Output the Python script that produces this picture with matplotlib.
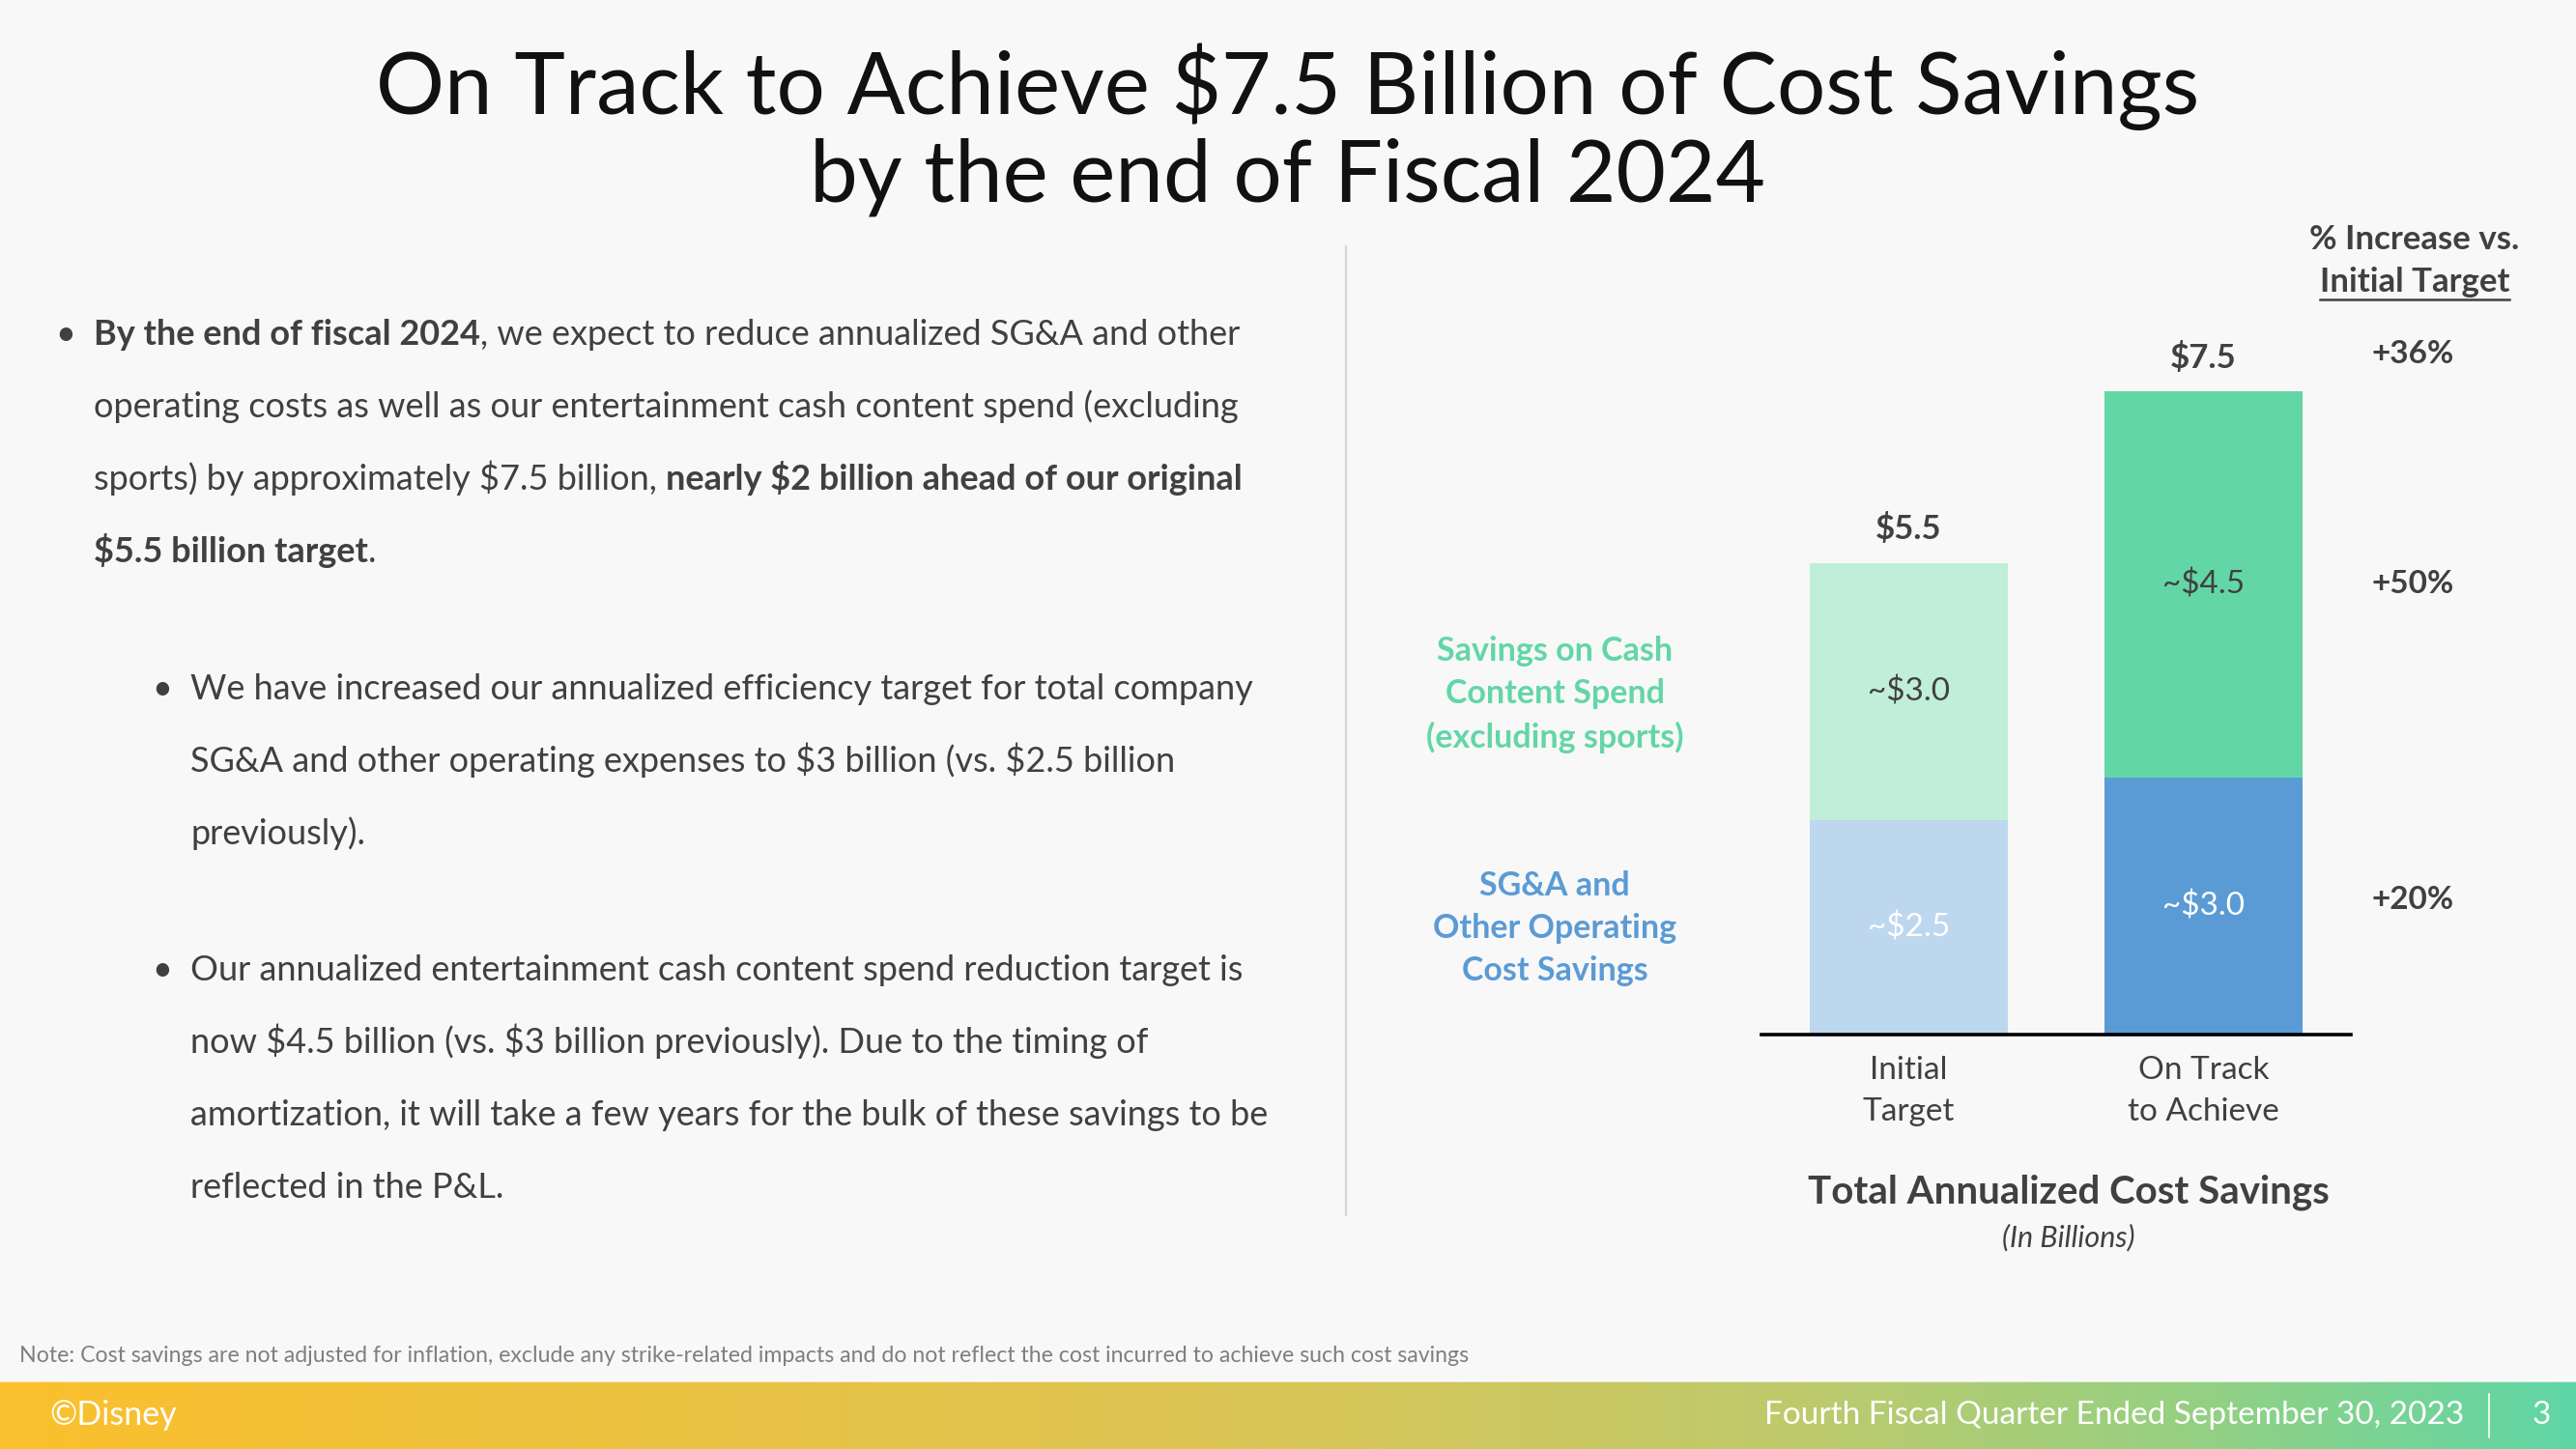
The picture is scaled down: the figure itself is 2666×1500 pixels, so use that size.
import matplotlib
matplotlib.use("Agg")
import matplotlib.pyplot as plt
import numpy as np
from matplotlib.lines import Line2D

plt.rcParams['font.family'] = ['Lato', 'DejaVu Sans']
plt.rcParams['text.parse_math'] = False

# Chart data
categories = ['Initial\nTarget', 'On Track\nto Achieve']
sga_savings = [2.5, 3.0]
content_savings = [3.0, 4.5]
totals = [5.5, 7.5]
sga_labels = ['~$2.5', '~$3.0']
content_labels = ['~$3.0', '~$4.5']
total_labels = ['$5.5', '$7.5']
pct_total = '+36%'
pct_content = '+50%'
pct_sga = '+20%'

title_lines = ['On Track to Achieve $7.5 Billion of Cost Savings',
               'by the end of Fiscal 2024']

bullet_main = [
    [("By the end of fiscal 2024", True), (", we expect to reduce annualized SG&A and other", False)],
    [("operating costs as well as our entertainment cash content spend (excluding", False)],
    [("sports) by approximately $7.5 billion, ", False), ("nearly $2 billion ahead of our original", True)],
    [("$5.5 billion target", True), (".", False)],
]
bullet_sub1 = [
    "We have increased our annualized efficiency target for total company",
    "SG&A and other operating expenses to $3 billion (vs. $2.5 billion",
    "previously).",
]
bullet_sub2 = [
    "Our annualized entertainment cash content spend reduction target is",
    "now $4.5 billion (vs. $3 billion previously). Due to the timing of",
    "amortization, it will take a few years for the bulk of these savings to be",
    "reflected in the P&L.",
]
note = ("Note: Cost savings are not adjusted for inflation, exclude any strike-related impacts "
        "and do not reflect the cost incurred to achieve such cost savings")

W, H = 2666, 1500
BG = '#F8F8F8'
TXT = '#404040'
GREEN_LIGHT = '#C1EED9'
GREEN = '#63D6A6'
BLUE_LIGHT = '#BDD7EE'
BLUE = '#5B9BD5'

fig = plt.figure(figsize=(W / 100, H / 100), dpi=100, facecolor=BG)
renderer = fig.canvas.get_renderer()


def fx(x):
    return x / W


def fy(y):
    return 1 - y / H


# title
for i, line in enumerate(title_lines):
    fig.text(0.5, fy(90 + i * 94), line, fontsize=64, color='#111111',
             ha='center', va='center')

# divider
fig.add_artist(Line2D([fx(1393)] * 2, [fy(255), fy(1258)], color='#D6D6D6', lw=1.5))

# body text
BODY = 26


def draw_runs(x, y, runs):
    for s, bold in runs:
        t = fig.text(fx(x), fy(y + 10), s, fontsize=BODY, color=TXT, va='baseline', ha='left',
                     fontweight='bold' if bold else 'normal')
        x += t.get_window_extent(renderer).width


def bullet(x, y):
    fig.text(fx(x), fy(y + 10), '\u2022', fontsize=BODY, color=TXT, va='baseline', ha='left')


step = 75
bullet(57, 347)
for i, runs in enumerate(bullet_main):
    draw_runs(97, 347 + i * step, runs)

bullet(157, 714)
for i, line in enumerate(bullet_sub1):
    draw_runs(197, 714 + i * step, [(line, False)])

bullet(157, 1005)
for i, line in enumerate(bullet_sub2):
    draw_runs(197, 1005 + i * step, [(line, False)])

# bar chart
ymax = 8.5
ax = fig.add_axes([1823 / W, (H - 1071) / H, 610 / W, ymax * 88.8 / H])
ax.set_facecolor('none')
x = np.arange(len(categories))
bw = 0.673
ax.bar(x, sga_savings, width=bw, color=[BLUE_LIGHT, BLUE])
ax.bar(x, content_savings, width=bw, bottom=sga_savings, color=[GREEN_LIGHT, GREEN])
ax.set_xlim(-0.5, 1.5)
ax.set_ylim(0, ymax)
for s in ['top', 'left', 'right']:
    ax.spines[s].set_visible(False)
ax.spines['bottom'].set_linewidth(2.6)
ax.spines['bottom'].set_color('black')
ax.set_yticks([])
ax.set_xticks(x)
ax.set_xticklabels(categories, fontsize=24, color=TXT, linespacing=1.55)
ax.tick_params(axis='x', length=0, pad=16)

for i in range(len(categories)):
    ax.text(x[i], sga_savings[i] / 2, sga_labels[i], ha='center', va='center',
            fontsize=24, color='white')
    ax.text(x[i], sga_savings[i] + content_savings[i] / 2, content_labels[i], ha='center',
            va='center', fontsize=24, color=TXT)
    ax.text(x[i], totals[i] + 0.39, total_labels[i], ha='center', va='center',
            fontsize=25, color=TXT, fontweight='bold', clip_on=False)

px_ = 1.71
ax.text(px_, totals[1] + 0.43, pct_total, ha='center', va='center', fontsize=24,
        color=TXT, fontweight='bold', clip_on=False)
ax.text(px_, sga_savings[1] + content_savings[1] / 2, pct_content, ha='center', va='center',
        fontsize=24, color=TXT, fontweight='bold', clip_on=False)
ax.text(px_, sga_savings[1] / 2 + 0.07, pct_sga, ha='center', va='center', fontsize=24,
        color=TXT, fontweight='bold', clip_on=False)

fig.text(fx(2499), fy(248), '% Increase vs.', ha='center', va='center', fontsize=25,
         color=TXT, fontweight='bold')
it = fig.text(fx(2499), fy(292), 'Initial Target', ha='center', va='center', fontsize=25,
              color=TXT, fontweight='bold')
bb = it.get_window_extent(renderer)
fig.add_artist(Line2D([bb.x0 / W, bb.x1 / W], [(bb.y0 - 2) / H] * 2, color=TXT, lw=1.8))

# series labels
fig.text(fx(1609), fy(719), 'Savings on Cash\nContent Spend\n(excluding sports)', ha='center',
         va='center', fontsize=24.5, color=GREEN, fontweight='bold', linespacing=1.48)
fig.text(fx(1609), fy(961), 'SG&A and\nOther Operating\nCost Savings', ha='center',
         va='center', fontsize=24.5, color=BLUE, fontweight='bold', linespacing=1.48)

fig.text(fx(2141), fy(1234), 'Total Annualized Cost Savings', ha='center', va='center',
         fontsize=29, color=TXT, fontweight='bold')
fig.text(fx(2141), fy(1281), '(In Billions)', ha='center', va='center', fontsize=22,
         color=TXT, style='italic')

# note
fig.text(fx(20), fy(1403), note, ha='left', va='center', fontsize=16.7, color='#7F7F7F')

# footer band
fax = fig.add_axes([0, 0, 1, 70 / H])
stops = [0.0, 0.45, 0.7, 0.85, 1.0]
cols = np.array([[251, 192, 45], [222, 196, 82], [190, 202, 108], [150, 208, 130], [95, 214, 166]]) / 255
t = np.linspace(0, 1, 800)
grad = np.stack([np.interp(t, stops, cols[:, k]) for k in range(3)], axis=-1)
fax.imshow(grad[np.newaxis, :, :], aspect='auto', extent=[0, 1, 0, 1])
fax.set_axis_off()
fig.add_artist(Line2D([0, 1], [70 / H] * 2, color='#FFFFFF', lw=1.5, alpha=0.6))

fig.text(fx(51), fy(1465), '\u00a9Disney', ha='left', va='center', fontsize=24.5, color='white')
fig.text(fx(2550), fy(1465), 'Fourth Fiscal Quarter Ended September 30, 2023', ha='right',
         va='center', fontsize=24, color='white')
fig.add_artist(Line2D([fx(2576)] * 2, [fy(1443), fy(1488)], color='white', lw=1.2))
fig.text(fx(2630), fy(1465), '3', ha='center', va='center', fontsize=24, color='white')

fig.savefig('out.png', dpi=100, facecolor=BG)
